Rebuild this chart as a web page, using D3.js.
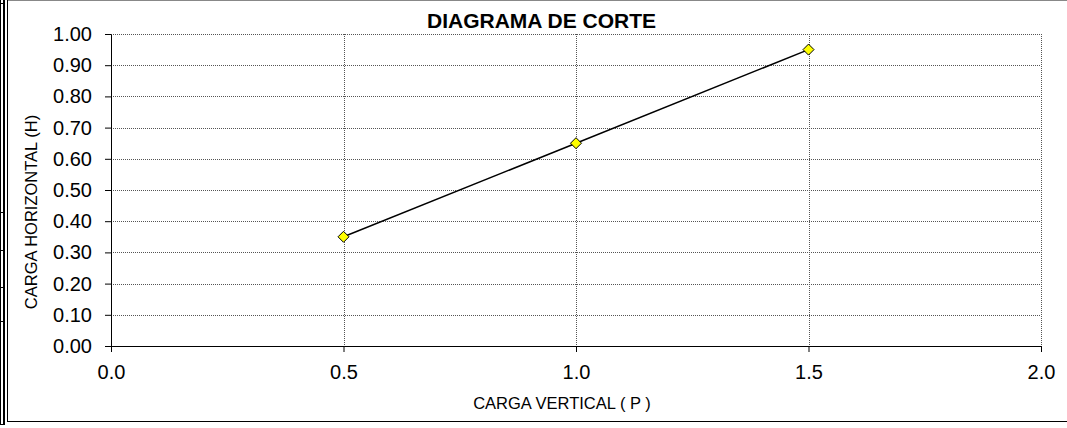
<!DOCTYPE html>
<html>
<head>
<meta charset="utf-8">
<script src="https://cdn.jsdelivr.net/npm/d3@7"></script>
<style>
  html, body { margin: 0; padding: 0; background: #fff; }
  svg { display: block; }
  text { font-family: "Liberation Sans", Arial, sans-serif; fill: #000; }
</style>
</head>
<body>
<svg id="chart" width="1067" height="428"></svg>
<script>
// ---- data ----
const cargaVertical = [0.5, 1.0, 1.5];
const cargaHorizontal = [0.35, 0.65, 0.95];
const xTicks = [0, 0.5, 1.0, 1.5, 2.0];
const yTicks = [0, 0.1, 0.2, 0.3, 0.4, 0.5, 0.6, 0.7, 0.8, 0.9, 1.0];
const titleText = "DIAGRAMA DE CORTE";
const xTitle = "CARGA VERTICAL ( P )";
const yTitle = "CARGA HORIZONTAL (H)";

(function () {
const svg = d3.select("#chart");
const W = 1067;
const pLeft = 111, pRight = 1041, pTop = 34, pBottom = 346;

const x = d3.scaleLinear().domain([0, 2]).range([pLeft, pRight]);
const y = d3.scaleLinear().domain([0, 1]).range([pBottom, pTop]);

// ---- spreadsheet cell borders at left edge ----
const deco = svg.append("g").attr("stroke", "#000");
deco.append("line").attr("x1", 0.5).attr("x2", 0.5).attr("y1", 0).attr("y2", 425).attr("stroke-width", 1);
deco.append("line").attr("x1", 4).attr("x2", 4).attr("y1", 0).attr("y2", 425).attr("stroke-width", 2);
[3, 212, 250, 287, 321, 424].forEach(yy => {
  deco.append("line").attr("x1", 0).attr("x2", 5).attr("y1", yy + 0.5).attr("y2", yy + 0.5).attr("stroke-width", 1);
});

// ---- chart area border ----
svg.append("line").attr("x1", 7.5).attr("x2", W).attr("y1", 0.5).attr("y2", 0.5).attr("stroke", "#888");
svg.append("line").attr("x1", 7.5).attr("x2", 7.5).attr("y1", 0).attr("y2", 422).attr("stroke", "#000");
svg.append("line").attr("x1", 7.5).attr("x2", W).attr("y1", 421.5).attr("y2", 421.5).attr("stroke", "#000");

// ---- gridlines ----
const grid = svg.append("g").attr("stroke", "#555").attr("stroke-width", 1).attr("stroke-dasharray", "1,1");
grid.selectAll("line.h").data(yTicks.filter(d => d > 0)).join("line")
  .attr("x1", pLeft).attr("x2", pRight)
  .attr("y1", d => Math.round(y(d)) + 0.5).attr("y2", d => Math.round(y(d)) + 0.5);
grid.selectAll("line.v").data(xTicks.filter(d => d > 0)).join("line")
  .attr("y1", pTop).attr("y2", pBottom)
  .attr("x1", d => Math.round(x(d)) + 0.5).attr("x2", d => Math.round(x(d)) + 0.5);

// ---- axes ----
const yAxis = d3.axisLeft(y).tickValues(yTicks).tickFormat(d3.format(".2f"))
  .tickSize(6).tickSizeOuter(0).tickPadding(13);
const xAxis = d3.axisBottom(x).tickValues(xTicks).tickFormat(d3.format(".1f"))
  .tickSize(6).tickSizeOuter(0).tickPadding(13);

const gy = svg.append("g").attr("transform", `translate(${pLeft},0)`).call(yAxis);
const gx = svg.append("g").attr("transform", `translate(0,${pBottom})`).call(xAxis);
[gx, gy].forEach(g => {
  g.selectAll("path.domain").attr("stroke", "#000");
  g.selectAll(".tick line").attr("stroke", "#000");
  g.selectAll(".tick text").attr("font-size", 20)
    .attr("font-family", '"Liberation Sans", Arial, sans-serif').attr("fill", "#000");
});

// ---- series ----
const pts = cargaVertical.map((v, i) => [v, cargaHorizontal[i]]);
svg.append("path").datum(pts)
  .attr("fill", "none").attr("stroke", "#000").attr("stroke-width", 1.5)
  .attr("d", d3.line().x(d => x(d[0])).y(d => y(d[1])));

svg.append("g").selectAll("path").data(pts).join("path")
  .attr("transform", d => `translate(${x(d[0])},${y(d[1])})`)
  .attr("d", "M0,-5.5L5.5,0L0,5.5L-5.5,0Z")
  .attr("fill", "#FFFF00").attr("stroke", "#000").attr("stroke-width", 1);

// ---- titles ----
svg.append("text").attr("x", 541.5).attr("y", 28).attr("text-anchor", "middle")
  .attr("font-size", 21).attr("font-weight", "bold").text(titleText);
svg.append("text").attr("x", 562).attr("y", 409).attr("text-anchor", "middle")
  .attr("font-size", 16.5).text(xTitle);
svg.append("text").attr("transform", "translate(37,212) rotate(-90)").attr("text-anchor", "middle")
  .attr("font-size", 16.5).text(yTitle);
})();
</script>
</body>
</html>
